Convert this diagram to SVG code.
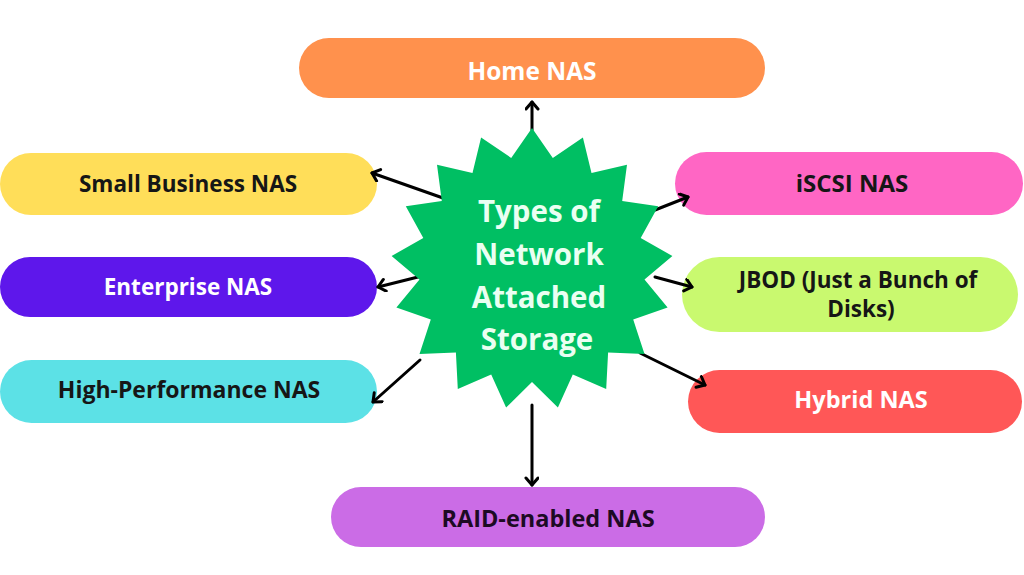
<svg xmlns="http://www.w3.org/2000/svg" width="1024" height="575" viewBox="0 0 1024 575">
<style>
.lbl{font-family:"Open Sans","Liberation Sans",sans-serif;font-weight:700;font-size:22.5px;text-anchor:middle}
.dark{fill:#161616}
.light{fill:#ffffff}
.conn{stroke:#000;stroke-width:3;fill:none;stroke-linecap:round}
.ctr{font-family:"Open Sans","Liberation Sans",sans-serif;font-weight:700;font-size:29.5px;text-anchor:middle;fill:#eafff2}
</style>
<defs>
<marker id="arr" markerUnits="userSpaceOnUse" markerWidth="16" markerHeight="16" refX="9" refY="7" orient="auto">
<path d="M2,1 L9,7 L2,13" fill="none" stroke="#000" stroke-width="3" stroke-linecap="round" stroke-linejoin="round"/>
</marker>
</defs>
<rect width="1024" height="575" fill="#ffffff"/>
<g id="home">
<rect x="299" y="38" width="466" height="60" rx="30" fill="#FF914D"/>
<text class="lbl light" x="532" y="80" style="font-size:24.5px">Home NAS</text>
</g>
<g id="smallbiz">
<rect x="0" y="153" width="377" height="62" rx="31" fill="#FFDE59"/>
<text class="lbl dark" x="188" y="192">Small Business NAS</text>
</g>
<g id="enterprise">
<rect x="0" y="257" width="377" height="60" rx="30" fill="#5E17EB"/>
<text class="lbl light" x="188" y="295">Enterprise NAS</text>
</g>
<g id="highperf">
<rect x="0" y="360" width="377" height="63" rx="31.5" fill="#5CE1E6"/>
<text class="lbl dark" x="189" y="398" style="font-size:23px">High-Performance NAS</text>
</g>
<g id="iscsi">
<rect x="675" y="152" width="348" height="63" rx="31.5" fill="#FF66C4"/>
<text class="lbl dark" x="852" y="192" style="font-size:24px">iSCSI NAS</text>
</g>
<g id="jbod">
<rect x="682" y="257" width="336" height="75" rx="37.5" fill="#C9F96F"/>
<text class="lbl dark" x="858" y="288">JBOD (Just a Bunch of</text>
<text class="lbl dark" x="861" y="317">Disks)</text>
</g>
<g id="hybrid">
<rect x="688" y="370" width="334" height="63" rx="31.5" fill="#FF5757"/>
<text class="lbl light" x="861" y="408" style="font-size:23.5px">Hybrid NAS</text>
</g>
<g id="raid">
<rect x="331" y="487" width="434" height="60" rx="30" fill="#CB6CE6"/>
<text class="lbl" x="548" y="527" fill="#1d0a24" style="font-size:23.5px">RAID-enabled NAS</text>
</g>
<g id="connectors">
<line class="conn" x1="532" y1="130" x2="532" y2="102" marker-end="url(#arr)"/>
<line class="conn" x1="443" y1="198" x2="372" y2="173" marker-end="url(#arr)"/>
<line class="conn" x1="422" y1="276" x2="378" y2="287" marker-end="url(#arr)"/>
<line class="conn" x1="420" y1="360" x2="373" y2="402" marker-end="url(#arr)"/>
<line class="conn" x1="655" y1="210" x2="688" y2="197" marker-end="url(#arr)"/>
<line class="conn" x1="655" y1="277" x2="692" y2="287" marker-end="url(#arr)"/>
<line class="conn" x1="640" y1="353" x2="705" y2="385" marker-end="url(#arr)"/>
<line class="conn" x1="532" y1="405" x2="532" y2="485" marker-end="url(#arr)"/>
</g>
<g id="center">
<polygon fill="#00BF63" points="532,128 552.8,157.9 582.9,137.5 591.5,172.9 627,164.8 622.2,200.9 658.2,206.2 640.7,238.1 672.4,256 644.5,279.4 667.6,307.6 633.2,319.4 644.5,354 608.1,352.5 606.2,388.9 572.8,374.4 557.9,407.6 532,382 506.1,407.6 491.2,374.4 457.8,388.9 455.9,352.5 419.5,354 430.8,319.4 396.4,307.6 419.5,279.4 391.6,256 423.3,238.1 405.8,206.2 441.8,200.9 437,164.8 472.5,172.9 481.1,137.5 511.2,157.9"/>
<text class="ctr" x="539" y="222">Types of</text>
<text class="ctr" x="539" y="265">Network</text>
<text class="ctr" x="539" y="308">Attached</text>
<text class="ctr" x="537" y="350">Storage</text>
</g>
</svg>
